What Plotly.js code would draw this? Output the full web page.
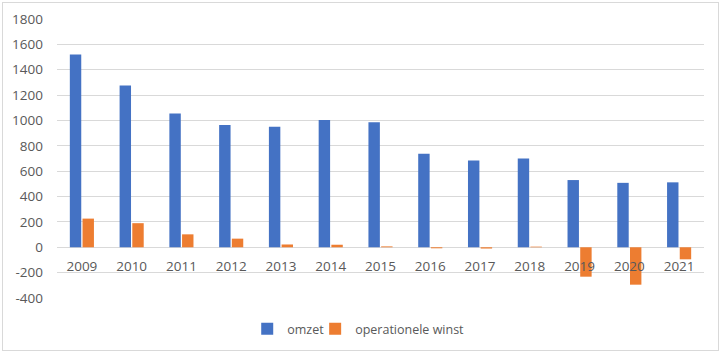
<!DOCTYPE html>
<html>
<head>
<meta charset="utf-8">
<script src="https://cdn.plot.ly/plotly-3.0.1.min.js"></script>
<style>
html,body{margin:0;padding:0;background:#fff;}
#frame{position:absolute;left:2px;top:2px;width:717px;height:349px;border:1px solid #d9d9d9;box-sizing:border-box;}
#chart{position:absolute;left:0;top:0;width:724px;height:356px;}
</style>
</head>
<body>
<div id="frame"></div>
<div id="chart"></div>
<script>
const years = ["2009","2010","2011","2012","2013","2014","2015","2016","2017","2018","2019","2020","2021"];
const omzet = [1520, 1275, 1055, 965, 950, 1003, 985, 737, 685, 700, 530, 508, 512];
const winst = [226, 190, 102, 68, 22, 20, 7, -8, -10, 5, -232, -295, -95];
const yTicks = [-400, -200, 0, 200, 400, 600, 800, 1000, 1200, 1400, 1600, 1800];
const yMin = -400, yMax = 1800;

const tickFont = {family: "Open Sans, Noto Sans, sans-serif", size: 13.5, color: "#595959"};
const legFont = {family: "Open Sans, Noto Sans, sans-serif", size: 12.5, color: "#595959"};

const data = [
  {type: "bar", name: "omzet", x: years, y: omzet, marker: {color: "#4472C4"}, legend: "legend"},
  {type: "bar", name: "operationele winst", x: years, y: winst, marker: {color: "#ED7D31"}, legend: "legend2"}
];

const layout = {
  width: 724, height: 356,
  margin: {l: 57, r: 20, t: 19, b: 58},
  paper_bgcolor: "rgba(0,0,0,0)",
  plot_bgcolor: "rgba(0,0,0,0)",
  barmode: "group",
  bargap: 0.49,
  bargroupgap: 0.1,
  showlegend: true,
  legend: {orientation: "h", x: 0.294, xanchor: "left", y: -0.112, yanchor: "middle",
           font: legFont, itemwidth: 30},
  legend2: {orientation: "h", x: 0.399, xanchor: "left", y: -0.112, yanchor: "middle",
           font: legFont, itemwidth: 30},
  xaxis: {
    type: "category",
    anchor: "free",
    position: -yMin / (yMax - yMin),
    showgrid: false, showline: false, zeroline: false,
    ticks: "", ticklabelstandoff: 9,
    tickfont: tickFont
  },
  yaxis: {
    range: [yMin, yMax],
    tickvals: yTicks,
    ticktext: yTicks.map(String),
    showgrid: true, gridcolor: "#d9d9d9", gridwidth: 1,
    zeroline: true, zerolinecolor: "#d9d9d9", zerolinewidth: 1,
    showline: false, ticks: "", ticklabelstandoff: 13,
    tickfont: tickFont
  }
};

Plotly.newPlot("chart", data, layout, {displayModeBar: false, staticPlot: true});
</script>
</body>
</html>
